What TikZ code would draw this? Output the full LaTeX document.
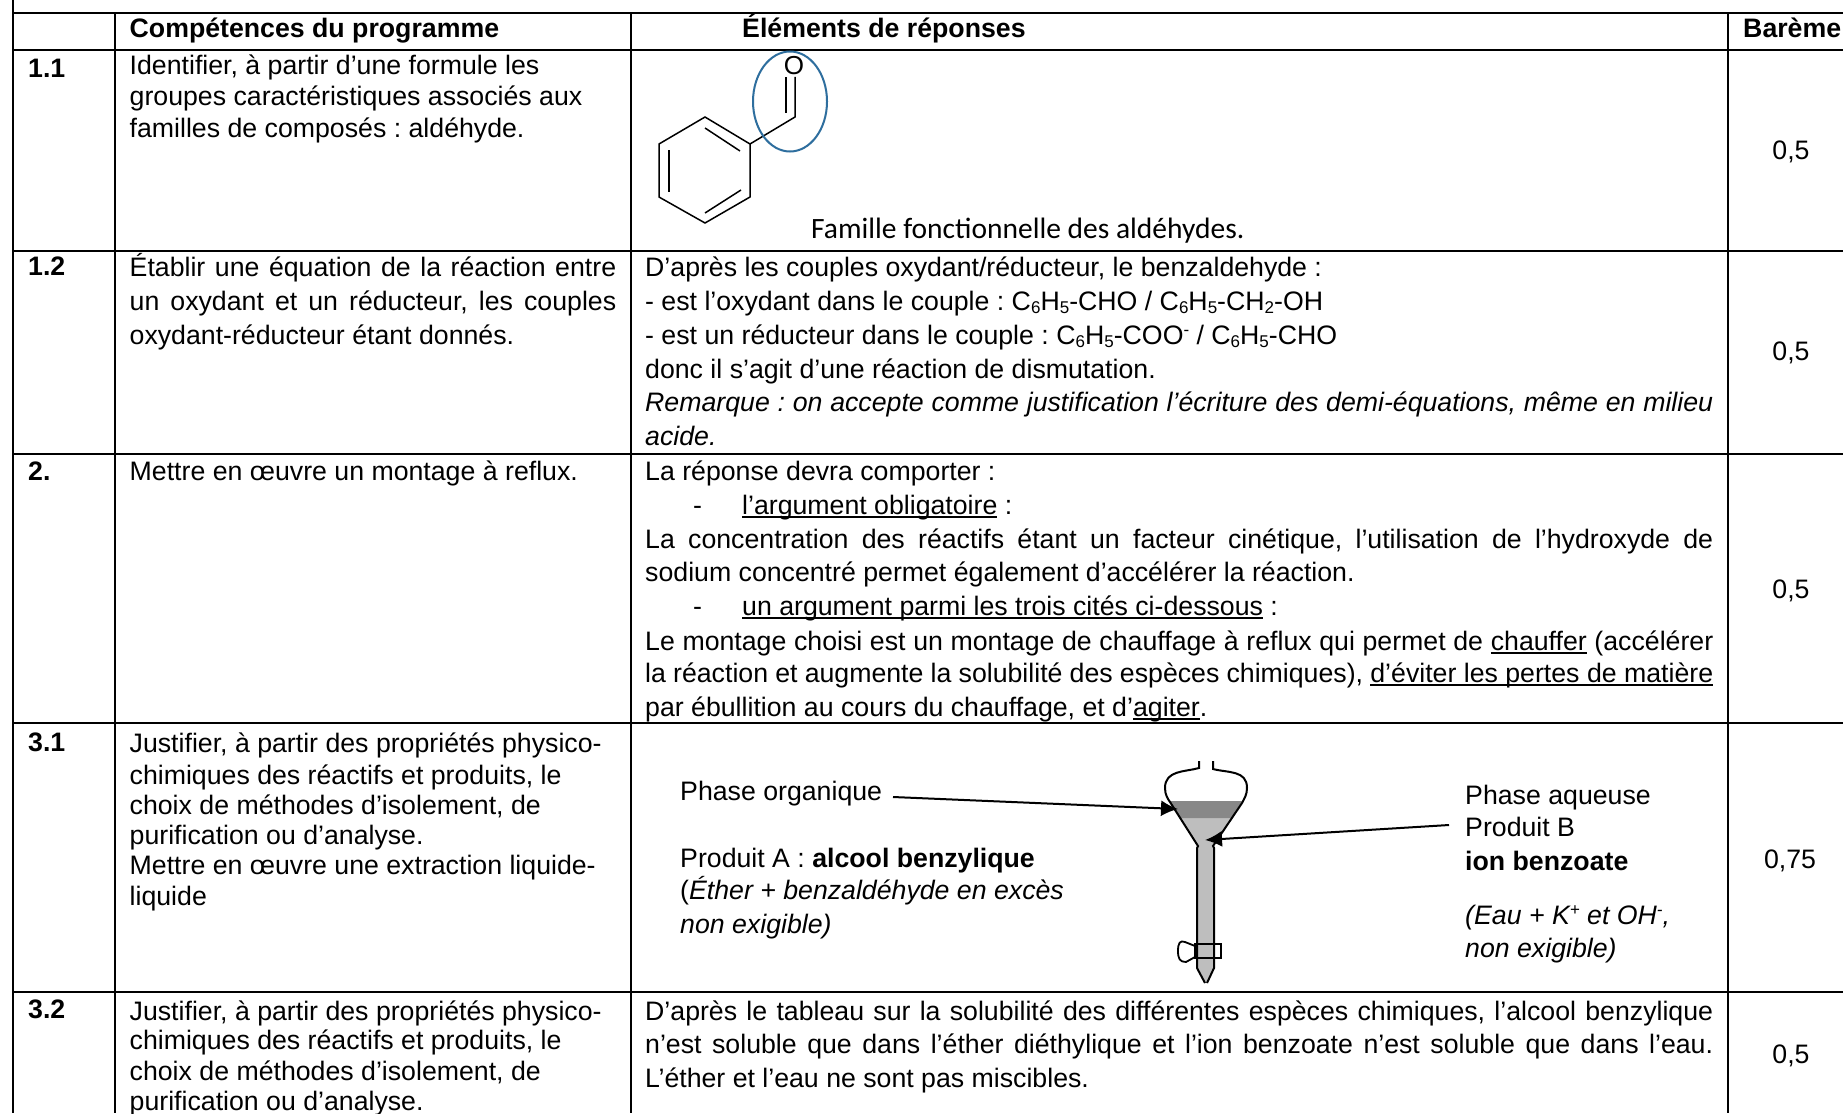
\documentclass[tikz,border=0pt]{standalone}
\usepackage{fontspec}
\setmainfont{Liberation Sans}
\newfontfamily\carl{Carlito}
\usetikzlibrary{arrows.meta}
\newcounter{tlc}
\frenchspacing
\newcommand{\ulin}[1]{\setbox0\hbox{#1}\rlap{\rule[-3.5pt]{\wd0}{1.6pt}}\box0\relax}
\newcommand{\tl}[3]{\stepcounter{tlc}\node[txt] (n\thetlc) at (#1,#2) {#3};}
\newcommand{\jl}[4]{\stepcounter{tlc}\node[txt] (n\thetlc) at (#1,#2) {\makebox[#3pt][s]{#4}};}
\newcommand{\bl}[3]{\stepcounter{tlc}\node[txt,font=\fontsize{26.7}{30}\selectfont\frenchspacing\bfseries] (n\thetlc) at (#1,#2) {#3};}
\newcommand{\sbs}[1]{\raisebox{-3pt}{\fontsize{17}{18}\selectfont #1}}
\newcommand{\sps}[1]{\raisebox{9pt}{\fontsize{17}{18}\selectfont #1}}
\newcommand{\sixc}{C\sbs{6}H\sbs{5}}
\tikzset{
  txt/.style={anchor=base west,inner sep=0pt,font=\fontsize{26.7}{30}\selectfont\frenchspacing},
  grid/.style={line width=2pt,black},
  mol/.style={line width=1.5pt,black,line join=miter},
  fun/.style={line width=2pt,black},
  arr/.style={line width=2pt,-{Latex[length=17pt,width=16pt]}}
}
\begin{document}
\begin{tikzpicture}[x=1pt,y=-1pt]
\useasboundingbox (0,0) rectangle (1843,1113);
\fill[white] (0,0) rectangle (1843,1113);
% grid
\draw[grid] (13,0) -- (13,1113);
\draw[grid] (115,13) -- (115,1113);
\draw[grid] (631,13) -- (631,1113);
\draw[grid] (1728,13) -- (1728,1113);
\foreach \y in {13,50,251,454,723,992} \draw[grid] (13,\y) -- (1843,\y);
% header
\bl{129.5}{38}{Compétences du programme}
\bl{742}{38}{Éléments de réponses}
\bl{1743}{38}{Barème}
% labels
\bl{28}{78}{1.1}
\bl{28}{275}{1.2}
\bl{28}{480}{2.}
\bl{28}{751}{3.1}
\bl{28}{1018}{3.2}
% row 1.1
\tl{129.5}{75}{Identifier, à partir d’une formule les}
\tl{129.5}{106}{groupes caractéristiques associés aux}
\tl{129.5}{137}{familles de composés : aldéhyde.}
% molecule
\draw[mol] (705,117) -- (750,144) -- (750,197) -- (705,223) -- (659,197) -- (659,144) -- cycle;
\draw[mol] (705,128) -- (740,151);
\draw[mol] (669,150) -- (669,192);
\draw[mol] (741,190) -- (705,213);
\draw[mol] (750,144) -- (795,117) -- (795,77);
\draw[mol] (786,113) -- (786,77);
\node[txt,anchor=center,font=\fontsize{26}{30}\selectfont] (oxy) at (794,66) {O};
\draw[line width=2pt,color={rgb,255:red,46;green,110;blue,158}] (790,101.5) ellipse [x radius=37,y radius=50];
\node[txt,font=\fontsize{29.5}{32}\carl\selectfont] (fam) at (811,238) {Famille fonctionnelle des aldéhydes.};
\node[txt,anchor=base] (b1) at (1791,159) {0,5};
% row 1.2
\jl{129.5}{276}{486.5}{Établir une équation de la réaction entre}
\jl{129.5}{310}{486.5}{un oxydant et un réducteur, les couples}
\tl{129.5}{344}{oxydant-réducteur étant donnés.}
\tl{645}{276}{D’après les couples oxydant/réducteur, le benzaldehyde :}
\tl{645}{310}{- est l’oxydant dans le couple : \sixc-CHO / \sixc-CH\sbs{2}-OH}
\tl{645}{344}{- est un réducteur dans le couple : \sixc-COO\sps{-} / \sixc-CHO}
\tl{645}{378}{donc il s’agit d’une réaction de dismutation.}
\jl{645}{411}{1068}{\itshape Remarque : on accepte comme justification l’écriture des demi-équations, même en milieu}
\tl{645}{445}{\itshape acide.}
\node[txt,anchor=base] (b2) at (1791,360) {0,5};
% row 2
\tl{129.5}{480}{Mettre en œuvre un montage à reflux.}
\tl{645}{480}{La réponse devra comporter :}
\tl{693}{514.5}{-}
\tl{742}{514.5}{\ulin{l’argument obligatoire} :}
\jl{645}{548.5}{1068}{La concentration des réactifs étant un facteur cinétique, l’utilisation de l’hydroxyde de}
\tl{645}{581.5}{sodium concentré permet également d’accélérer la réaction.}
\tl{693}{615.5}{-}
\tl{742}{615.5}{\ulin{un argument parmi les trois cités ci-dessous} :}
\jl{645}{650}{1068}{Le montage choisi est un montage de chauffage à reflux qui permet de \ulin{chauffer} (accélérer}
\jl{645}{682.5}{1068}{la réaction et augmente la solubilité des espèces chimiques), \ulin{d’éviter les pertes de matière}}
\tl{645}{716.5}{par ébullition au cours du chauffage, et d’\ulin{agiter}.}
\node[txt,anchor=base] (b3) at (1791,598) {0,5};
% row 3.1
\tl{129.5}{752}{Justifier, à partir des propriétés physico-}
\tl{129.5}{784}{chimiques des réactifs et produits, le}
\tl{129.5}{814}{choix de méthodes d’isolement, de}
\tl{129.5}{844}{purification ou d’analyse.}
\tl{129.5}{874}{Mettre en œuvre une extraction liquide-}
\tl{129.5}{905}{liquide}
\tl{680}{800}{Phase organique}
\tl{680}{867}{Produit A : \textbf{alcool benzylique}}
\tl{680}{899}{(\textit{Éther + benzaldéhyde en excès}}
\tl{680}{933}{\itshape non exigible)}
\tl{1465}{804}{Phase aqueuse}
\tl{1465}{836}{Produit B}
\tl{1465}{870}{\bfseries ion benzoate}
\tl{1465}{924}{\itshape (Eau + K\sps{+} et OH\sps{-},}
\tl{1465}{957}{\itshape non exigible)}
\node[txt,anchor=base] (b4) at (1790,868) {0,75};
% funnel
\fill[color={rgb,255:red,190;green,190;blue,190}] (1180,818) -- (1232,818) -- (1213,846) -- (1214,968) -- (1207,983) -- (1205,983) -- (1197,968) -- (1197,847) -- (1198,846) -- cycle;
\fill[color={rgb,255:red,136;green,136;blue,136}] (1169,801) -- (1242,801) -- (1232,818) -- (1180,818) -- cycle;
\draw[fun] (1199,761) -- (1199,768) .. controls (1185,772) and (1165,770) .. (1165,788) .. controls (1165,795) and (1168,799) .. (1170,802) -- (1198,846) -- (1197,848) -- (1197,968) -- (1205,983);
\draw[fun] (1213,761) -- (1213,769) .. controls (1228,773) and (1247,770) .. (1247,788) .. controls (1247,795) and (1244,799) .. (1242,803) -- (1213,846) -- (1214,848) -- (1214,968) -- (1207,983);
\draw[line width=1.8pt] (1195,944) rectangle (1221,958);
\draw[line width=1.8pt] (1195,946) -- (1185,942) .. controls (1180,940) and (1178,943) .. (1178,951) .. controls (1178,959) and (1180,962) .. (1186,962) -- (1195,957);
% arrows
\coordinate (a1s) at (893,797);
\coordinate (a1e) at (1178,809);
\coordinate (a2s) at (1449,825);
\coordinate (a2e) at (1205,840);
\draw[arr] (a1s) -- (a1e);
\draw[arr] (a2s) -- (a2e);
% row 3.2
\tl{129.5}{1020}{Justifier, à partir des propriétés physico-}
\tl{129.5}{1049}{chimiques des réactifs et produits, le}
\tl{129.5}{1080}{choix de méthodes d’isolement, de}
\tl{129.5}{1110}{purification ou d’analyse.}
\jl{645}{1020}{1068}{D’après le tableau sur la solubilité des différentes espèces chimiques, l’alcool benzylique}
\jl{645}{1053}{1068}{n’est soluble que dans l’éther diéthylique et l’ion benzoate n’est soluble que dans l’eau.}
\tl{645}{1087}{L’éther et l’eau ne sont pas miscibles.}
\node[txt,anchor=base] (b5) at (1791,1063) {0,5};
\end{tikzpicture}
\end{document}
